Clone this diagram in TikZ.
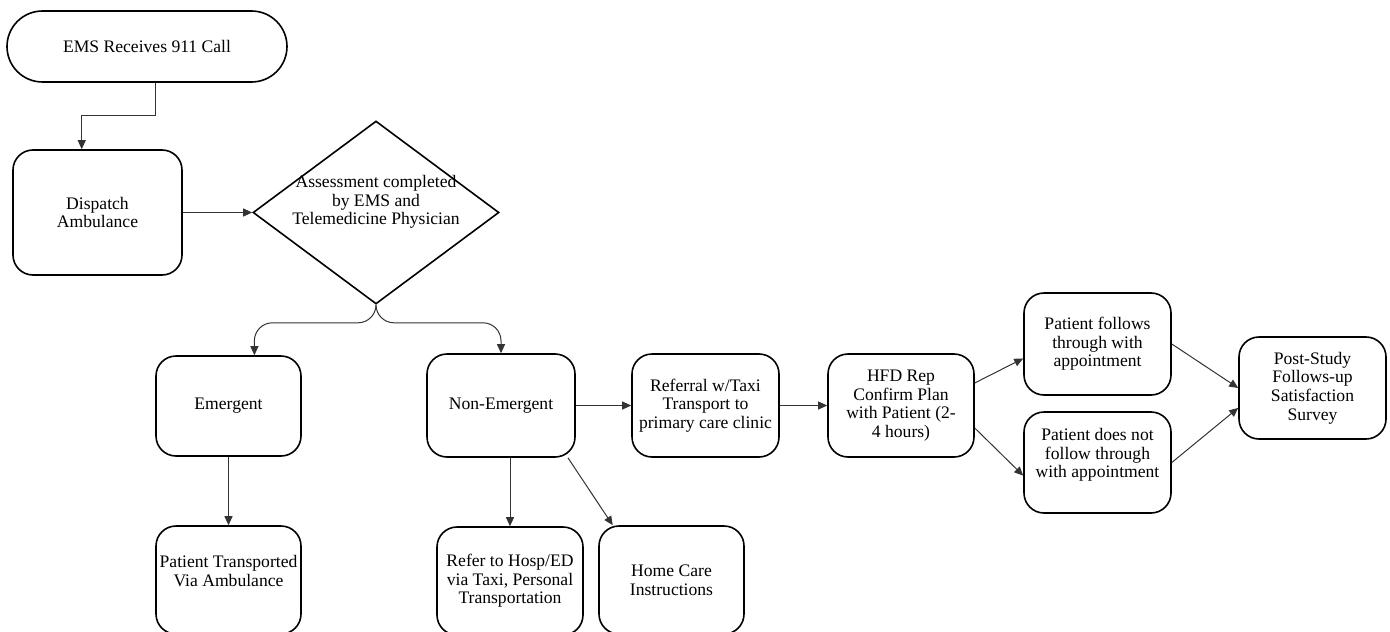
\documentclass[tikz,border=0pt]{standalone}
\usepackage{fontspec}
\setmainfont{Liberation Serif}
\usetikzlibrary{arrows.meta,shapes.geometric}

\begin{document}
\begin{tikzpicture}[x=0.5pt, y=-0.5pt,
  box/.style={draw, rounded corners=10pt, line width=0.8pt, align=center, inner sep=1pt,
    font=\fontsize{8.8}{9.3}\selectfont},
  arr/.style={-{Triangle[length=4.5pt,width=4pt]}, black!80, line width=0.5pt}]

\useasboundingbox (0,0) rectangle (1390,631);

\node[box, rounded corners=17.75pt, minimum width=140pt, minimum height=35.5pt] (start) at (147,46.5) {EMS Receives 911 Call};
\node[box, minimum width=84.5pt, minimum height=62.5pt] (disp) at (97.5,212.5) {Dispatch\\Ambulance};
\node[draw, diamond, line width=0.8pt, inner sep=0pt, minimum width=123pt, minimum height=91.5pt] (assess) at (376,212.5) {};
\node[align=center, inner sep=0pt, font=\fontsize{8.8}{9.3}\selectfont] (assesstext) at (376,202) {Assessment completed\\by EMS and\\Telemedicine Physician};

\node[box, minimum width=72.5pt, minimum height=50pt] (emerg) at (228.5,406) {Emergent};
\node[box, minimum width=72.5pt, minimum height=54pt] (ptrans) at (228.5,580) {Patient Transported\\Via Ambulance\\~};
\node[box, minimum width=74pt, minimum height=51.5pt] (nonemerg) at (501,405.5) {Non-Emergent};
\node[box, minimum width=73pt, minimum height=54pt] (refhosp) at (510,581) {Refer to Hosp/ED\\via Taxi, Personal\\Transportation};
\node[box, minimum width=72.5pt, minimum height=54pt] (homecare) at (671.5,580) {Home Care\\Instructions};

\node[box, minimum width=73.5pt, minimum height=51.5pt] (referral) at (705.5,405.5) {Referral w/Taxi\\Transport to\\primary care clinic};
\node[box, minimum width=73pt, minimum height=51.5pt] (hfd) at (901,405.5) {HFD Rep\\Confirm Plan\\with Patient (2-\\4 hours)};
\node[box, minimum width=73.5pt, minimum height=51pt] (follow) at (1097.5,344) {Patient follows\\through with\\appointment};
\node[box, minimum width=73.5pt, minimum height=50.5pt] (nofollow) at (1097.5,462.5) {Patient does not\\follow through\\with appointment\\~};
\node[box, minimum width=73.5pt, minimum height=51pt] (post) at (1312.5,388) {Post-Study\\Follows-up\\Satisfaction\\Survey};

\draw[arr] (start.-77) -- ++(0,33) -| (disp.104);
\draw[arr] (disp) -- (assess);

\draw[arr, rounded corners=9pt] (assess.south) -- ++(0,18) -| (emerg.63);
\draw[arr, rounded corners=9pt] (assess.south) -- ++(0,18) -| (nonemerg.north);

\draw[arr] (emerg) -- (ptrans);
\draw[arr] (refhosp.north |- nonemerg.south) -- (refhosp.north);
\draw[arr] (nonemerg.-38) -- (homecare.137);
\draw[arr] (nonemerg) -- (referral);
\draw[arr] (referral) -- (hfd);

\draw[arr] (hfd.17) -- (follow.191);
\draw[arr] (hfd.-17) -- (nofollow.190);
\draw[arr] (follow.east) -- (post.west);
\draw[arr] (nofollow.east) -- (post.195);

\end{tikzpicture}
\end{document}
